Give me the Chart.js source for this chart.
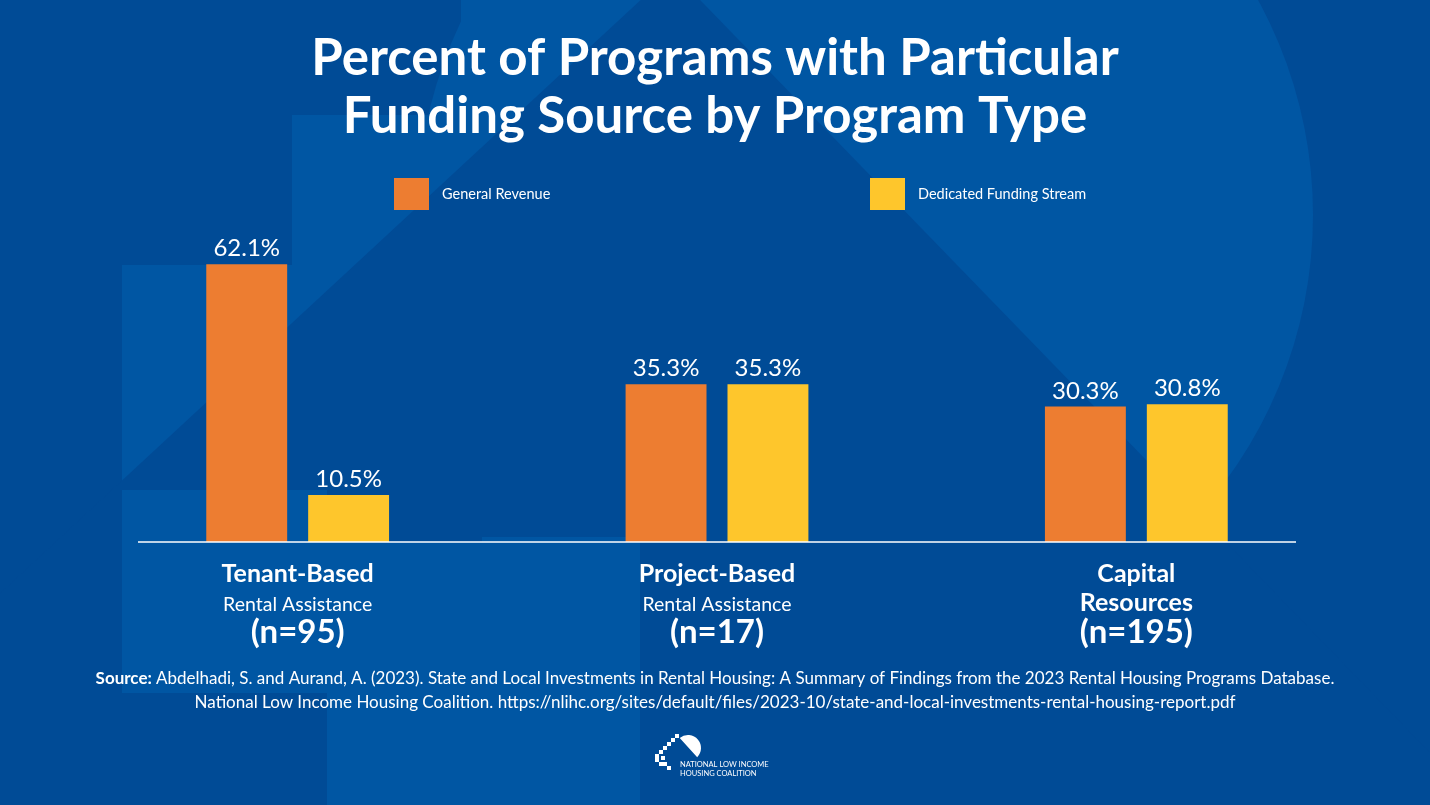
<!DOCTYPE html>
<html>
<head>
<meta charset="utf-8">
<script src="https://cdn.jsdelivr.net/npm/chart.js@4.4.0/dist/chart.umd.min.js"></script>
<style>
    html, body { margin: 0; padding: 0; background: #004b96; }
    #wrap { width: 1430px; height: 805px; position: relative; }
</style>
</head>
<body>
<div id="wrap"><canvas id="chart"></canvas></div>
<script>
const titleLines = ['Percent of Programs with Particular', 'Funding Source by Program Type'];
const categoryTitles = ['Tenant-Based', 'Project-Based', 'Capital'];
const categorySubtitles = ['Rental Assistance', 'Rental Assistance', 'Resources'];
const subtitleBold = [false, false, true];
const sampleSizes = [95, 17, 195];
const seriesNames = ['General Revenue', 'Dedicated Funding Stream'];
const generalRevenue = [62.1, 35.3, 30.3];
const dedicatedStream = [10.5, 35.3, 30.8];
const sourceLines = [
    'Abdelhadi, S. and Aurand, A. (2023). State and Local Investments in Rental Housing: A Summary of Findings from the 2023 Rental Housing Programs Database.',
    'National Low Income Housing Coalition. https://nlihc.org/sites/default/files/2023-10/state-and-local-investments-rental-housing-report.pdf'
];

const DARK = '#004b96';
const LIGHT = '#0056a3';
const ORANGE = '#ed7d31';
const YELLOW = '#fec62c';
const FONT = 'Lato, "Open Sans", sans-serif';

const backgroundPlugin = {
    id: 'background',
    beforeDraw(chart) {
        const ctx = chart.ctx;
        const w = chart.width, h = chart.height;
        ctx.save();
        ctx.fillStyle = DARK;
        ctx.fillRect(0, 0, w, h);
        ctx.fillStyle = LIGHT;
        // big sun
        ctx.beginPath();
        ctx.arc(865, 215, 448, 0, Math.PI * 2);
        ctx.fill();
        // stepped wall left of the roof
        ctx.beginPath();
        ctx.moveTo(461, 0);
        ctx.lineTo(641, 0);
        ctx.lineTo(122, 483);
        ctx.lineTo(122, 265);
        ctx.lineTo(292, 265);
        ctx.lineTo(292, 115);
        ctx.lineTo(461, 115);
        ctx.closePath();
        ctx.fill();
        // roof interior
        ctx.fillStyle = DARK;
        ctx.beginPath();
        ctx.moveTo(672, -29);
        ctx.lineTo(1500, 825);
        ctx.lineTo(-250, 825);
        ctx.closePath();
        ctx.fill();
        // lower blocks
        ctx.fillStyle = LIGHT;
        ctx.fillRect(122, 490, 205, 203);
        ctx.fillRect(327, 542, 155, 263);
        ctx.fillRect(482, 537, 158, 268);
        ctx.restore();
    }
};

function drawLogo(ctx, cx, top) {
    ctx.save();
    ctx.fillStyle = '#ffffff';
    // dome
    ctx.beginPath();
    ctx.moveTo(cx + 2, top + 1);
    ctx.arc(cx + 13, top + 14, 13, -Math.PI * 0.72, Math.PI * 0.25);
    ctx.lineTo(cx + 2, top + 1);
    ctx.fill();
    // pixel steps
    const s = 4;
    const steps = [[0, 0], [-4, 4], [-8, 8], [-12, 12], [-16, 16], [-20, 20], [-20, 24], [-16, 28], [-12, 28], [-8, 32]];
    steps.forEach(p => ctx.fillRect(cx + p[0], top + p[1], s, s));
    ctx.fillRect(cx - 14, top + 22, s, s);
    ctx.font = '7.5px ' + FONT;
    ctx.textAlign = 'left';
    ctx.textBaseline = 'alphabetic';
    ctx.fillText('NATIONAL LOW INCOME', cx + 5, top + 33);
    ctx.fillText('HOUSING COALITION', cx + 5, top + 42);
    ctx.restore();
}

const annotationPlugin = {
    id: 'annotations',
    afterDatasetsDraw(chart) {
        const ctx = chart.ctx;
        const area = chart.chartArea;
        const xScale = chart.scales.x;
        const yScale = chart.scales.y;
        const base = yScale.getPixelForValue(0);
        ctx.save();

        // value labels
        ctx.fillStyle = '#ffffff';
        ctx.textAlign = 'center';
        ctx.textBaseline = 'alphabetic';
        ctx.font = '24px ' + FONT;
        chart.data.datasets.forEach((ds, di) => {
            chart.getDatasetMeta(di).data.forEach((bar, i) => {
                ctx.fillText(ds.data[i].toFixed(1) + '%', bar.x, bar.y - 8);
            });
        });

        // baseline
        ctx.strokeStyle = '#ffffff';
        ctx.lineWidth = 1.5;
        ctx.beginPath();
        ctx.moveTo(area.left + 50, base);
        ctx.lineTo(area.right - 50, base);
        ctx.stroke();

        // category labels
        categoryTitles.forEach((t, i) => {
            const x = xScale.getPixelForValue(i);
            ctx.font = 'bold 25px ' + FONT;
            ctx.fillText(t, x, base + 40);
            ctx.font = (subtitleBold[i] ? 'bold 25px ' : '19.5px ') + FONT;
            ctx.fillText(categorySubtitles[i], x, base + 69);
            ctx.font = 'bold 33px ' + FONT;
            ctx.fillText('(n=' + sampleSizes[i] + ')', x, base + 101);
        });

        // title
        ctx.font = 'bold 51px ' + FONT;
        ctx.fillText(titleLines[0], 715, 75);
        ctx.fillText(titleLines[1], 715, 133);

        // legend
        const legendX = [394, 870];
        chart.data.datasets.forEach((ds, di) => {
            ctx.fillStyle = ds.backgroundColor;
            ctx.fillRect(legendX[di], 178, 35, 32);
            ctx.fillStyle = '#ffffff';
            ctx.font = '14.5px ' + FONT;
            ctx.textAlign = 'left';
            ctx.fillText(ds.label, legendX[di] + 48, 199);
        });

        // source
        const prefix = 'Source: ';
        ctx.textAlign = 'left';
        ctx.font = 'bold 17px ' + FONT;
        const pw = ctx.measureText(prefix).width;
        ctx.font = '17px ' + FONT;
        const lw = ctx.measureText(sourceLines[0]).width;
        const start = 715 - (pw + lw) / 2;
        ctx.font = 'bold 17px ' + FONT;
        ctx.fillText(prefix, start, 684);
        ctx.font = '17px ' + FONT;
        ctx.fillText(sourceLines[0], start + pw, 684);
        ctx.textAlign = 'center';
        ctx.fillText(sourceLines[1], 715, 708);

        drawLogo(ctx, 675, 734);
        ctx.restore();
    }
};

const chart = new Chart(document.getElementById('chart'), {
    type: 'bar',
    data: {
        labels: categoryTitles,
        datasets: [{
            label: seriesNames[0],
            data: generalRevenue,
            backgroundColor: ORANGE
        }, {
            label: seriesNames[1],
            data: dedicatedStream,
            backgroundColor: YELLOW
        }]
    },
    options: {
        responsive: true,
        maintainAspectRatio: false,
        animation: false,
        layout: {
            padding: {top: 229, bottom: 263, left: 88, right: 84}
        },
        datasets: {
            bar: {
                categoryPercentage: 0.486,
                barPercentage: 0.794
            }
        },
        plugins: {
            legend: {display: false},
            title: {display: false},
            tooltip: {enabled: false}
        },
        scales: {
            x: {display: false},
            y: {display: false, min: 0, max: 70}
        }
    },
    plugins: [backgroundPlugin, annotationPlugin]
});
</script>
</body>
</html>
